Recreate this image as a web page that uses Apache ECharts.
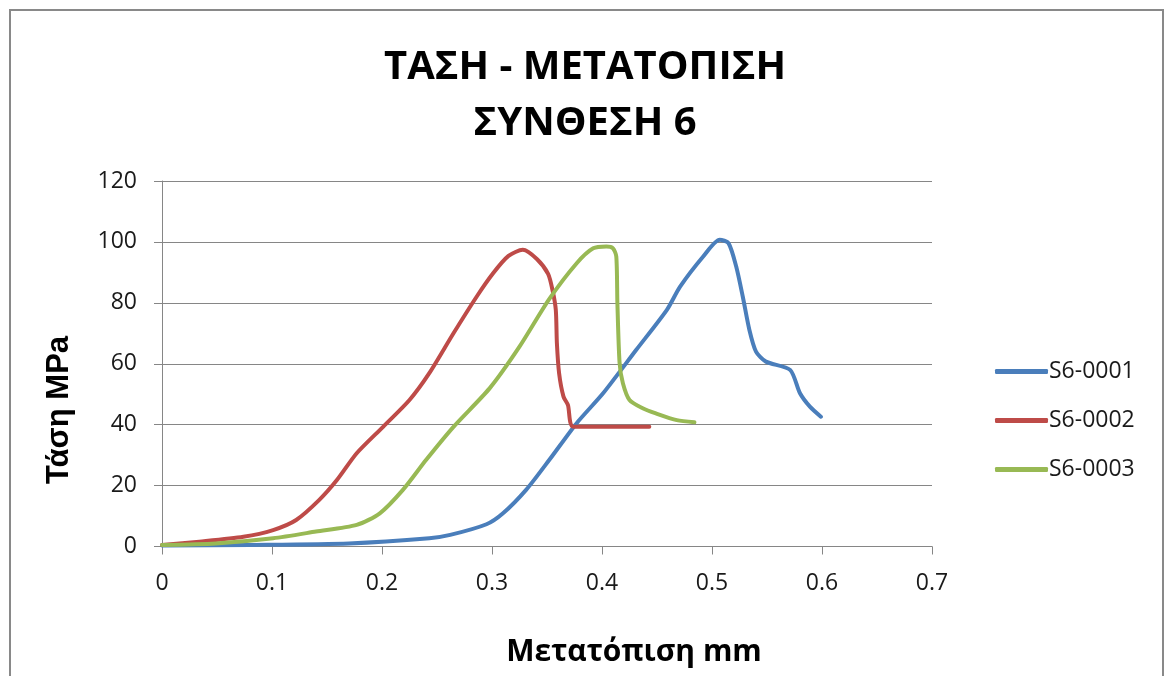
<!DOCTYPE html>
<html>
<head>
<meta charset="utf-8">
<script src="https://cdn.jsdelivr.net/npm/echarts@6/dist/echarts.min.js"></script>
<style>html,body{margin:0;padding:0;background:#fff;}#c{width:1170px;height:676px;}</style>
</head>
<body>
<div id="c"></div>
<script>
var seriesNames = ['S6-0001', 'S6-0002', 'S6-0003'];
var s1X = [0, 0.08, 0.17, 0.243, 0.262, 0.295, 0.31, 0.331, 0.352, 0.377, 0.401, 0.431, 0.459, 0.471, 0.492, 0.507, 0.515, 0.522, 0.528, 0.534, 0.540, 0.549, 0.571, 0.580, 0.589, 0.599];
var s1Y = [0.3, 0.5, 1.0, 2.7, 3.8, 7.3, 10.9, 18.6, 28.4, 40.5, 50.3, 64.5, 77.7, 85.3, 95.2, 100.7, 99.6, 91.9, 82, 71.1, 64, 60.7, 58, 50.3, 45.9, 42.6];
var s2X = [0, 0.034, 0.074, 0.101, 0.122, 0.143, 0.159, 0.177, 0.201, 0.225, 0.243, 0.265, 0.286, 0.301, 0.315, 0.328, 0.341, 0.351, 0.355, 0.358, 0.359, 0.361, 0.365, 0.369, 0.374, 0.443];
var s2Y = [0.5, 1.6, 3.2, 5.4, 8.7, 15.3, 21.8, 30.6, 39.3, 48.1, 56.9, 70, 82, 89.7, 95.4, 97.4, 94.3, 89.5, 84.2, 77.7, 66.7, 56.9, 49.2, 46.5, 39.3, 39.3];
var s3X = [0, 0.049, 0.101, 0.140, 0.177, 0.198, 0.219, 0.240, 0.265, 0.298, 0.325, 0.352, 0.377, 0.392, 0.404, 0.410, 0.413, 0.414, 0.416, 0.419, 0.425, 0.437, 0.449, 0.468, 0.484];
var s3Y = [0.5, 1.0, 2.7, 4.9, 7.1, 10.9, 18.6, 28.4, 39.3, 52, 65.6, 81.2, 93, 97.9, 98.5, 97.9, 95.2, 79.9, 60.2, 53.6, 48.1, 45.4, 43.7, 41.5, 40.8];
var xTicks = { min: 0, max: 0.7, interval: 0.1 };
var yTicks = { min: 0, max: 120, interval: 20 };
var titleText = 'ΤΑΣΗ - ΜΕΤΑΤΟΠΙΣΗ\nΣΥΝΘΕΣΗ 6';
var xName = 'Μετατόπιση mm';
var yName = 'Τάση MPa';
var colors = ['#4A7EBB', '#BE4B48', '#98B954'];

function pairs(xs, ys) { return xs.map(function (x, i) { return [x, ys[i]]; }); }
var allX = [s1X, s2X, s3X], allY = [s1Y, s2Y, s3Y];

var chart = echarts.init(document.getElementById('c'));
var axisGray = '#868686';
chart.setOption({
  animation: false,
  backgroundColor: '#fff',
  color: colors,
  title: {
    text: titleText, left: 'center', top: 35,
    textStyle: { fontFamily: 'Open Sans', fontWeight: 'bold', fontSize: 40, lineHeight: 56, color: '#000' }
  },
  graphic: [
    { type: 'rect', shape: { x: 10, y: 10, width: 1153, height: 720 }, style: { fill: 'none', stroke: '#898989', lineWidth: 2 }, silent: true },
    { type: 'text', x: 59, y: 410, rotation: Math.PI / 2, style: { text: yName, font: 'bold 31px "Liberation Sans"', fill: '#000', align: 'center', verticalAlign: 'middle' } },
    { type: 'text', x: 634, y: 652, style: { text: xName, font: 'bold 30px "Open Sans"', fill: '#000', align: 'center', verticalAlign: 'middle' } }
  ],
  legend: {
    orient: 'vertical', left: 990, top: 355,
    itemWidth: 53, itemHeight: 5, itemGap: 26, icon: 'roundRect',
    data: seriesNames,
    textStyle: { fontFamily: 'Open Sans', fontSize: 23, lineHeight: 23, color: '#1a1a1a', padding: [0, 0, 0, -4] }
  },
  grid: { left: 162, right: 238, top: 181, bottom: 129.5, containLabel: false },
  xAxis: {
    type: 'value', min: xTicks.min, max: xTicks.max, interval: xTicks.interval,
    axisLine: { show: true, lineStyle: { color: axisGray, width: 1 } },
    axisTick: { show: true, length: 8, lineStyle: { color: axisGray } },
    splitLine: { show: false },
    axisLabel: { margin: 25, fontFamily: 'Open Sans', fontSize: 23, color: '#1a1a1a' }
  },
  yAxis: {
    type: 'value', min: yTicks.min, max: yTicks.max, interval: yTicks.interval,
    axisLine: { show: true, lineStyle: { color: axisGray, width: 1 } },
    axisTick: { show: true, length: 8, lineStyle: { color: axisGray } },
    splitLine: { show: true, lineStyle: { color: axisGray, width: 1 } },
    axisLabel: { margin: 25, fontFamily: 'Open Sans', fontSize: 23, color: '#1a1a1a' }
  },
  series: seriesNames.map(function (n, i) {
    return {
      name: n, type: 'line', data: pairs(allX[i], allY[i]),
      showSymbol: false, symbol: 'none', smooth: 0.25,
      lineStyle: { width: 4, color: colors[i], cap: 'round', join: 'round' },
      itemStyle: { color: colors[i] }
    };
  })
});
</script>
</body>
</html>
